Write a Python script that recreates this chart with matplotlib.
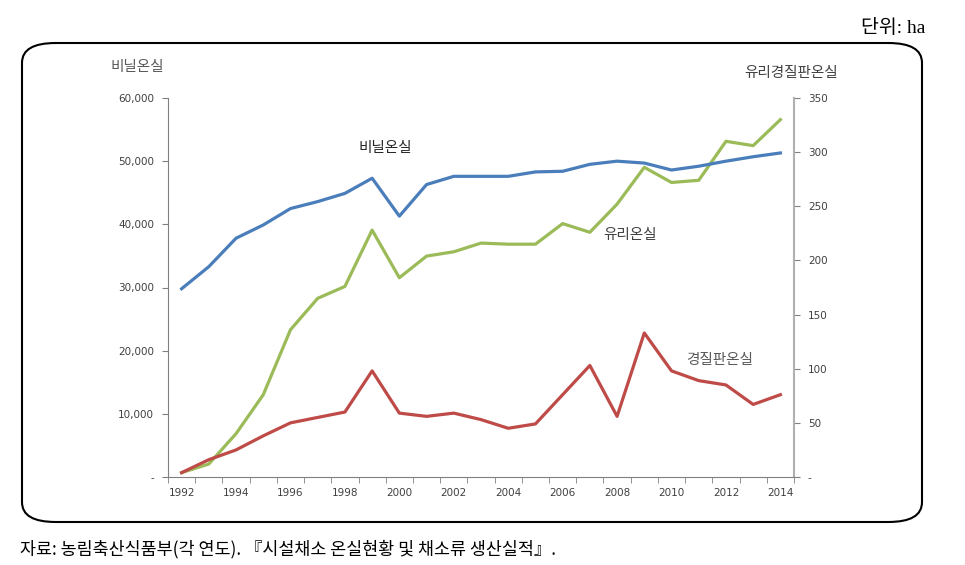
import matplotlib
matplotlib.use("Agg")
import matplotlib.pyplot as plt
from matplotlib.patches import FancyBboxPatch
from matplotlib.ticker import FuncFormatter

plt.rcParams['font.family'] = ['Noto Sans CJK KR', 'DejaVu Sans']

years = list(range(1992, 2015))
vinyl = [29800, 33300, 37800, 39900, 42500, 43600, 44900, 47300, 41300, 46300,
         47600, 47600, 47600, 48300, 48400, 49500, 50000, 49700, 48600, 49200,
         50000, 50700, 51300]
glass = [4, 12, 40, 76, 136, 165, 176, 228, 184, 204,
         208, 216, 215, 215, 234, 226, 252, 286, 272, 274,
         310, 306, 330]
hard = [4, 16, 25, 38, 50, 55, 60, 98, 59, 56,
        59, 53, 45, 49, 76, 103, 56, 133, 98, 89,
        85, 67, 76]

blue = '#4a7ebb'
green = '#9bbb59'
red = '#be4b48'
tick_col = '#404040'

fig = plt.figure(figsize=(9.65, 5.65), dpi=100)

# rounded frame
box = FancyBboxPatch((22 / 965, 1 - 522 / 565), 900 / 965, 479 / 565,
                     boxstyle="round,pad=0,rounding_size=0.035",
                     transform=fig.transFigure, fill=False, lw=1.5, ec='black')
fig.patches.append(box)

ax = fig.add_axes([168 / 965, 1 - 477 / 565, 626 / 965, 379 / 565])
ax2 = ax.twinx()

ax.plot(years, vinyl, color=blue, lw=2.3, zorder=3)
ax2.plot(years, glass, color=green, lw=2.3)
ax2.plot(years, hard, color=red, lw=2.3)

ax.set_xlim(1991.5, 2014.5)
ax.set_ylim(0, 60000)
ax2.set_ylim(0, 350)
ax.set_zorder(ax2.get_zorder() + 1)
ax.patch.set_visible(False)

ax.set_yticks(range(0, 60001, 10000))
ax.yaxis.set_major_formatter(FuncFormatter(lambda v, p: '-' if v == 0 else f'{int(v):,}'))
ax2.set_yticks(range(0, 351, 50))
ax2.yaxis.set_major_formatter(FuncFormatter(lambda v, p: '-' if v == 0 else f'{int(v)}'))

ax.set_xticks(years[::2])
ax.set_xticks([y + 0.5 for y in range(1991, 2015)], minor=True)
ax.tick_params(axis='x', which='major', length=0, pad=8, labelsize=7.5, labelcolor=tick_col)
ax.tick_params(axis='x', which='minor', length=4, color='#808080', direction='out')
ax.tick_params(axis='y', length=4, color='#808080', labelsize=7.5, labelcolor=tick_col, pad=6)
ax2.tick_params(axis='y', length=4, color='#808080', labelsize=7.5, labelcolor=tick_col, pad=6)
for lab in ax.get_xticklabels() + ax.get_yticklabels() + ax2.get_yticklabels():
    lab.set_fontfamily('DejaVu Sans')

for a in (ax, ax2):
    a.spines['top'].set_visible(False)
ax.spines['right'].set_visible(False)
ax2.spines['left'].set_visible(False)
ax2.spines['bottom'].set_visible(False)
ax.spines['left'].set_color('#808080')
ax.spines['bottom'].set_color('#808080')
ax2.spines['right'].set_color('#b0b0b0')
ax2.spines['right'].set_linewidth(1.5)

# axis titles and in-plot labels
fig.text(110 / 965, 1 - 67 / 565, '비닐온실', fontsize=10.5, color='#595959', va='center')
fig.text(838 / 965, 1 - 73 / 565, '유리경질판온실', fontsize=10.5, color='#404040', va='center', ha='right')
fig.text(385 / 965, 1 - 148 / 565, '비닐온실', fontsize=10.5, color='#262626', va='center', ha='center')
fig.text(630 / 965, 1 - 235 / 565, '유리온실', fontsize=10.5, color='#404040', va='center', ha='center')
fig.text(720 / 965, 1 - 360 / 565, '경질판온실', fontsize=10.5, color='#595959', va='center', ha='center')

fig.text(925 / 965, 1 - 28 / 565, '단위: ha', fontsize=14, ha='right', va='center',
         family=['Liberation Serif', 'Noto Sans CJK KR'])
fig.text(20 / 965, 1 - 549 / 565, '자료: 농림축산식품부(각 연도). 『시설채소 온실현황 및 채소류 생산실적』.',
         fontsize=12.5, ha='left', va='center')

fig.savefig('out.png', dpi=100)
